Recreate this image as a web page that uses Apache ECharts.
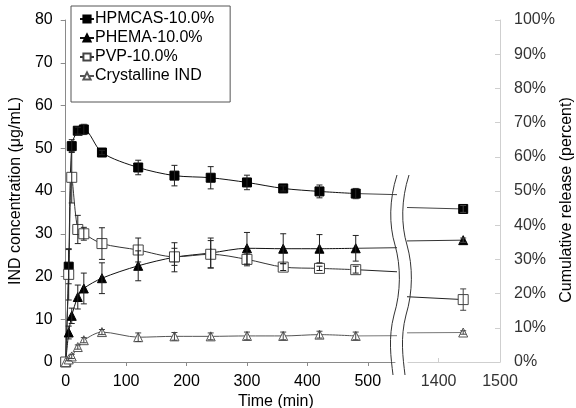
<!DOCTYPE html>
<html>
<head>
<meta charset="utf-8">
<script src="https://cdn.jsdelivr.net/npm/echarts@6/dist/echarts.min.js"></script>
<style>
html, body { margin: 0; background: #fff; }
#chart { width: 576px; height: 408px; }
</style>
</head>
<body>
<div id="chart"></div>
<script>
// sampling times (min), left segment
const times = [0, 5, 10, 20, 30, 60, 120, 180, 240, 300, 360, 420, 480]
const lateTime = 1440

// IND concentration (ug/mL) and error (+/-)
const hpmcas = [0, 22.3, 50.5, 54.1, 54.4, 49.0, 45.5, 43.6, 43.1, 42.0, 40.6, 39.9, 39.4]
const hpmcasErr = [0, 4.0, 1.5, 0.8, 1.2, 0.5, 1.7, 2.4, 2.6, 1.7, 0.6, 1.5, 1.2]
const phema = [0, 6.9, 10.8, 15.2, 17.2, 19.6, 22.5, 24.5, 25.5, 26.6, 26.5, 26.5, 26.6]
const phemaErr = [0, 1.5, 1.8, 2.8, 3.6, 3.6, 3.5, 3.4, 3.5, 3.7, 3.5, 3.3, 3.0]
const pvp = [0, 20.5, 43.2, 31.0, 30.0, 27.7, 26.2, 24.6, 25.2, 24.0, 22.2, 21.9, 21.6]
const pvpErr = [0, 6.0, 6.0, 3.3, 1.5, 3.7, 2.8, 2.0, 3.2, 1.5, 0.8, 0.5, 0.8]
const crystal = [0, 0.6, 1.3, 3.5, 5.1, 7.0, 5.8, 6.0, 6.0, 6.1, 6.1, 6.4, 6.1]
const crystalErr = [0, 0.3, 0.5, 0.5, 0.6, 0.6, 1.0, 0.9, 0.8, 0.9, 0.9, 0.8, 0.9]

// values at 1440 min
const lateValues = [35.8, 28.5, 14.6, 6.9]
const lateErr = [0.8, 0.5, 2.5, 0.4]

const names = ['HPMCAS-10.0%', 'PHEMA-10.0%', 'PVP-10.0%', 'Crystalline IND']
const xTicksLeft = [0, 100, 200, 300, 400, 500]
const xTicksRight = [1400, 1500]

const styles = [
  { symbol: 'rect', size: 9, fill: '#000', border: '#000', line: '#111', bridge: '#444' },
  { symbol: 'triangle', size: 9, fill: '#000', border: '#000', line: '#111', bridge: '#333' },
  { symbol: 'rect', size: 10, fill: '#fff', border: '#444', line: '#333', bridge: '#222' },
  { symbol: 'triangle', size: 9, fill: '#fff', border: '#555', line: '#555', bridge: '#777' }
]
const allValues = [hpmcas, phema, pvp, crystal]
const allErr = [hpmcasErr, phemaErr, pvpErr, crystalErr]

const chart = echarts.init(document.getElementById('chart'))

function errorBars(data, xi, yi, color) {
  return {
    type: 'custom',
    xAxisIndex: xi,
    yAxisIndex: yi,
    z: 4,
    silent: true,
    data: data,
    renderItem(params, api) {
      const x = api.value(0), y = api.value(1), e = api.value(2)
      if (!e) return null
      const top = api.coord([x, y + e])
      const bot = api.coord([x, y - e])
      const w = 3
      const s = { stroke: color, lineWidth: 1 }
      return {
        type: 'group',
        children: [
          { type: 'line', shape: { x1: top[0], y1: top[1], x2: bot[0], y2: bot[1] }, style: s },
          { type: 'line', shape: { x1: top[0] - w, y1: top[1], x2: top[0] + w, y2: top[1] }, style: s },
          { type: 'line', shape: { x1: bot[0] - w, y1: bot[1], x2: bot[0] + w, y2: bot[1] }, style: s }
        ]
      }
    }
  }
}

// wavy break mark, three curve pieces offset by dx
function breakMark(dx) {
  const pieces = [
    [397, 175, 389, 200, 389, 225, 395, 245],
    [395, 245, 401, 266, 401, 292, 394, 315],
    [394, 315, 388, 338, 391, 358, 393, 375]
  ]
  return pieces.map(p => ({
    type: 'bezierCurve', silent: true, z: 10,
    shape: { x1: p[0] + dx, y1: p[1], cpx1: p[2] + dx, cpy1: p[3], cpx2: p[4] + dx, cpy2: p[5], x2: p[6] + dx, y2: p[7] },
    style: { fill: null, stroke: '#333', lineWidth: 1 }
  }))
}

const series = []
names.forEach((name, k) => {
  const st = styles[k]
  const vals = allValues[k]
  const last = vals[vals.length - 1]
  const bridgeData = [[times[times.length - 1], last], [lateTime, lateValues[k]]]
  series.push({
    name: name,
    type: 'line',
    xAxisIndex: 0,
    yAxisIndex: 0,
    smooth: 0.3,
    symbol: st.symbol,
    symbolSize: st.size,
    z: 3,
    itemStyle: { color: st.fill, borderColor: st.border, borderWidth: 1 },
    lineStyle: { color: st.line, width: 1 },
    data: times.map((t, i) => [t, vals[i]])
  })
  // line running into the break, both sides
  series.push({
    type: 'line', xAxisIndex: 0, yAxisIndex: 0, symbol: 'none', clip: true, z: 2,
    lineStyle: { color: st.bridge, width: 1 }, data: bridgeData
  })
  series.push({
    type: 'line', xAxisIndex: 1, yAxisIndex: 1, symbol: 'none', clip: true, z: 2,
    lineStyle: { color: st.bridge, width: 1 }, data: bridgeData
  })
  series.push({
    type: 'line', xAxisIndex: 1, yAxisIndex: 1, symbol: st.symbol, symbolSize: st.size, z: 3,
    itemStyle: { color: st.fill, borderColor: st.border, borderWidth: 1 },
    lineStyle: { width: 0 }, data: [[lateTime, lateValues[k]]]
  })
  series.push(errorBars(times.map((t, i) => [t, vals[i], allErr[k][i]]), 0, 0, k === 3 ? '#444' : '#222'))
  series.push(errorBars([[lateTime, lateValues[k], lateErr[k]]], 1, 1, '#444'))
})

const grey = '#8a8a8a'
const light = '#cfcfcf'
const font = { fontFamily: 'Liberation Sans, Arial, sans-serif', fontSize: 16, color: '#000' }

chart.setOption({
  animation: false,
  backgroundColor: '#fff',
  textStyle: { fontFamily: 'Liberation Sans, Arial, sans-serif' },
  grid: [
    { left: 63, top: 20, width: 332, bottom: 46 },
    { left: 408, top: 20, width: 92, bottom: 46 }
  ],
  legend: {
    data: names,
    orient: 'vertical',
    left: 71,
    top: 6,
    itemWidth: 14,
    itemHeight: 9,
    itemGap: 3,
    padding: [5, 16, 18, 8],
    borderColor: '#555',
    borderWidth: 1,
    textStyle: { ...font, padding: [0, 0, 0, -4] }
  },
  xAxis: [
    {
      type: 'value', gridIndex: 0, min: 0, max: 545,
      axisLine: { lineStyle: { color: grey } },
      axisTick: { length: 4, lineStyle: { color: grey }, customValues: xTicksLeft },
      axisLabel: { ...font, margin: 12, customValues: xTicksLeft },
      splitLine: { show: false }
    },
    {
      type: 'value', gridIndex: 1, min: 1350, max: 1500,
      axisLine: { lineStyle: { color: light } },
      axisTick: { inside: true, length: 4, lineStyle: { color: light }, customValues: xTicksRight },
      axisLabel: { ...font, color: '#333', margin: 12, customValues: xTicksRight, formatter: v => String(v) },
      splitLine: { show: false }
    }
  ],
  yAxis: [
    {
      type: 'value', gridIndex: 0, min: 0, max: 80, interval: 10,
      name: 'IND concentration (\u03bcg/mL)', nameLocation: 'middle', nameGap: 36,
      nameTextStyle: { ...font },
      axisLine: { show: true, lineStyle: { color: grey } },
      axisTick: { show: true, length: 5, lineStyle: { color: grey } },
      axisLabel: { ...font, margin: 13 },
      splitLine: { show: false }
    },
    { type: 'value', gridIndex: 1, min: 0, max: 80, show: false },
    {
      type: 'value', gridIndex: 1, position: 'right', min: 0, max: 100, interval: 10,
      name: 'Cumulative release (percent)', nameLocation: 'middle', nameGap: 58, nameRotate: 90,
      nameTextStyle: { ...font, padding: [0, 18, 0, 0] },
      axisLine: { show: true, lineStyle: { color: light } },
      axisTick: { show: true, inside: true, length: 5, lineStyle: { color: light } },
      axisLabel: { ...font, color: '#333', margin: 14, formatter: '{value}%' },
      splitLine: { show: false }
    }
  ],
  graphic: [
    { type: 'text', left: 238, top: 394, style: { text: 'Time (min)', font: '16px Liberation Sans, Arial, sans-serif', fill: '#000' } }
  ].concat(breakMark(0), breakMark(12)),
  series: series
})
</script>
</body>
</html>
